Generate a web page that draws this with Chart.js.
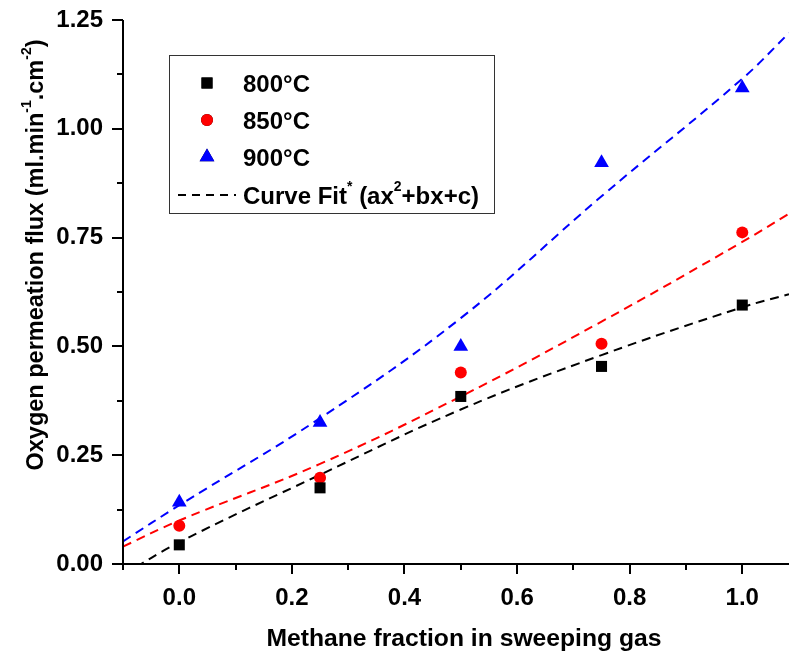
<!DOCTYPE html>
<html>
<head>
<meta charset="utf-8">
<script src="https://cdn.jsdelivr.net/npm/chart.js@4.4.1/dist/chart.umd.min.js"></script>
<style>
  html, body { margin: 0; padding: 0; background: #fff; }
  #wrap { width: 789px; height: 656px; }
</style>
</head>
<body>
<div id="wrap"><canvas id="chart" width="789" height="656"></canvas></div>
<script>
// measured points (methane fraction vs O2 flux)
const methaneFrac = [0, 0.25, 0.5, 0.75, 1.0];
const flux800 = [0.044, 0.175, 0.385, 0.454, 0.595];
const flux850 = [0.088, 0.198, 0.440, 0.506, 0.762];
const flux900 = [0.142, 0.325, 0.500, 0.922, 1.094];

// fitted curves
const fitX = [-0.1, 0, 0.25, 0.5, 0.75, 1.0, 1.083];
const fit800 = [-0.025, 0.05, 0.205, 0.355, 0.48, 0.59, 0.62];
const fit850 = [0.04, 0.10, 0.23, 0.385, 0.557, 0.74, 0.805];
const fit900 = [0.052, 0.135, 0.335, 0.565, 0.845, 1.115, 1.22];

const xTicks = [0, 0.2, 0.4, 0.6, 0.8, 1.0];
const yTicks = [0, 0.25, 0.5, 0.75, 1.0, 1.25];
const legendLabels = ['800°C', '850°C', '900°C'];

const FONT = '"Liberation Sans", Arial, sans-serif';

function pts(xs, ys) {
  return xs.map((x, i) => ({ x: x, y: ys[i] }));
}

// draws text pieces, some raised as superscripts
function richText(ctx, parts, x, y, size, align) {
  const big = 'bold ' + size + 'px ' + FONT;
  const small = 'bold ' + Math.round(size * 0.6) + 'px ' + FONT;
  let total = 0;
  parts.forEach(p => {
    ctx.font = p[1] ? small : big;
    total += ctx.measureText(p[0]).width;
  });
  let cx = align === 'center' ? x - total / 2 : x;
  ctx.textBaseline = 'middle';
  ctx.textAlign = 'left';
  parts.forEach(p => {
    ctx.font = p[1] ? small : big;
    ctx.fillText(p[0], cx, p[1] ? y - size * 0.42 : y);
    cx += ctx.measureText(p[0]).width;
  });
}

const decorPlugin = {
  id: 'decor',
  afterDraw(chart) {
    const ctx = chart.ctx;
    const a = chart.chartArea;
    const xs = chart.scales.x;
    const ys = chart.scales.y;
    ctx.save();
    ctx.strokeStyle = '#000';
    ctx.fillStyle = '#000';
    ctx.lineWidth = 2;
    // axis lines
    ctx.beginPath();
    ctx.moveTo(a.left, a.top);
    ctx.lineTo(a.left, a.bottom);
    ctx.lineTo(a.right, a.bottom);
    ctx.stroke();
    // y ticks, major and minor
    for (let v = 0; v <= 1.2501; v += 0.125) {
      const py = Math.round(ys.getPixelForValue(v));
      const major = Math.abs(v / 0.25 - Math.round(v / 0.25)) < 1e-6;
      ctx.beginPath();
      ctx.moveTo(a.left, py);
      ctx.lineTo(a.left - (major ? 11 : 6), py);
      ctx.stroke();
    }
    // x ticks
    for (let i = -1; i <= 10; i++) {
      const v = i / 10;
      const px = Math.round(xs.getPixelForValue(v));
      if (px > a.right) continue;
      const major = i >= 0 && i % 2 === 0;
      ctx.beginPath();
      ctx.moveTo(px, a.bottom);
      ctx.lineTo(px, a.bottom + (major ? 10 : 6));
      ctx.stroke();
    }
    // axis titles
    richText(ctx, [['Methane fraction in sweeping gas', 0]], 464, 639, 24.7, 'center');
    ctx.save();
    ctx.translate(37, 255);
    ctx.rotate(-Math.PI / 2);
    richText(ctx, [['Oxygen permeation flux (ml.min', 0], ['-1', 1], ['.cm', 0], ['-2', 1], [')', 0]], 0, 0, 23.5, 'center');
    ctx.restore();

    // legend box
    ctx.lineWidth = 1;
    ctx.strokeStyle = '#333';
    ctx.strokeRect(169.5, 55.5, 325, 158);
    const rowY = [83, 120, 157, 195];
    const sets = chart.data.datasets;
    for (let i = 0; i < 3; i++) {
      const ds = sets[i];
      Chart.helpers.drawPoint(ctx, {
        pointStyle: ds.pointStyle, radius: ds.pointRadius, rotation: 0, borderWidth: 0
      }, 207, rowY[i]);
      ctx.fillStyle = ds.backgroundColor;
      ctx.fill();
      ctx.fillStyle = '#000';
      richText(ctx, [[legendLabels[i], 0]], 243, rowY[i] + 2, 24, 'left');
    }
    ctx.lineWidth = 2;
    ctx.strokeStyle = '#000';
    ctx.setLineDash([8, 6]);
    ctx.beginPath();
    ctx.moveTo(178, rowY[3]);
    ctx.lineTo(236, rowY[3]);
    ctx.stroke();
    ctx.setLineDash([]);
    richText(ctx, [['Curve Fit', 0], ['*', 1], [' (ax', 0], ['2', 1], ['+bx+c)', 0]], 243, rowY[3] + 2, 24, 'left');
    ctx.restore();
  }
};

function fitSet(data, color) {
  return {
    type: 'line', data: pts(fitX, data), borderColor: color, borderWidth: 2,
    borderDash: [9, 6], pointRadius: 0, tension: 0.4, fill: false, order: 2
  };
}

function pointSet(data, color, style, r) {
  return {
    type: 'scatter', data: pts(methaneFrac, data), backgroundColor: color,
    borderColor: color, borderWidth: 0, pointStyle: style, pointRadius: r, order: 1
  };
}

new Chart(document.getElementById('chart'), {
  data: {
    datasets: [
      pointSet(flux800, '#000000', 'rect', 7.8),
      pointSet(flux850, '#ff0000', 'circle', 6),
      pointSet(flux900, '#0000ff', 'triangle', 8.5),
      fitSet(fit800, '#000000'),
      fitSet(fit850, '#ff0000'),
      fitSet(fit900, '#0000ff')
    ]
  },
  options: {
    responsive: false,
    animation: false,
    layout: { autoPadding: false, padding: { top: 20, right: 0, left: 0, bottom: 0 } },
    plugins: { legend: { display: false }, tooltip: { enabled: false } },
    scales: {
      x: {
        type: 'linear', min: -0.1, max: 1.083,
        afterBuildTicks: s => { s.ticks = xTicks.map(v => ({ value: v })); },
        afterFit: s => { s.height = 92; s.paddingLeft = 0; s.paddingRight = 0; },
        grid: { display: false, drawTicks: false },
        border: { display: false },
        ticks: {
          padding: 20, color: '#000', maxRotation: 0,
          font: { family: FONT, size: 24, weight: 'bold' },
          callback: v => v.toFixed(1)
        }
      },
      y: {
        type: 'linear', min: 0, max: 1.25,
        afterBuildTicks: s => { s.ticks = yTicks.map(v => ({ value: v })); },
        afterFit: s => { s.width = 123; s.paddingTop = 0; s.paddingBottom = 0; },
        grid: { display: false, drawTicks: false },
        border: { display: false },
        ticks: {
          padding: 20, color: '#000',
          font: { family: FONT, size: 24, weight: 'bold' },
          callback: v => v.toFixed(2)
        }
      }
    }
  },
  plugins: [decorPlugin]
});
</script>
</body>
</html>
